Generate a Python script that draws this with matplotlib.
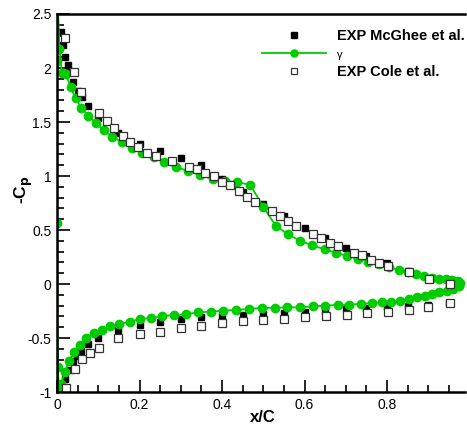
import matplotlib
matplotlib.use("Agg")
import matplotlib.pyplot as plt
from matplotlib.ticker import MultipleLocator

plt.rcParams['font.family'] = ['Liberation Sans', 'DejaVu Sans']

# EXP McGhee et al. (filled squares)
mcghee_up_x = [0.009, 0.014, 0.019, 0.026, 0.029, 0.039, 0.05, 0.06, 0.075, 0.099, 0.149, 0.2, 0.25, 0.3,
               0.35, 0.4, 0.45, 0.5, 0.55, 0.6, 0.65, 0.7, 0.75, 0.8, 0.85, 0.9, 0.95]
mcghee_up_y = [2.33, 2.21, 2.10, 2.03, 1.975, 1.87, 1.79, 1.73, 1.65, 1.54, 1.40, 1.30, 1.23, 1.17,
               1.10, 0.975, 0.855, 0.74, 0.63, 0.52, 0.423, 0.336, 0.262, 0.19, 0.12, 0.056, -0.009]
mcghee_lo_x = [0.004, 0.01, 0.02, 0.029, 0.038, 0.048, 0.059, 0.074, 0.099, 0.149, 0.2, 0.25, 0.3, 0.35,
               0.4, 0.45, 0.5, 0.55, 0.6, 0.65, 0.7, 0.75, 0.8, 0.85, 0.9, 0.95]
mcghee_lo_y = [-0.975, -0.938, -0.877, -0.80, -0.716, -0.667, -0.617, -0.556, -0.50, -0.426, -0.383, -0.352,
               -0.327, -0.308, -0.296, -0.284, -0.275, -0.27, -0.259, -0.25, -0.234, -0.225, -0.216,
               -0.204, -0.194, -0.173]

# EXP Cole et al. (open squares)
cole_up_x = [0.02, 0.04, 0.057, 0.101, 0.12, 0.137, 0.159, 0.177, 0.197, 0.219, 0.239, 0.279, 0.321, 0.339,
             0.359, 0.38, 0.40, 0.419, 0.44, 0.46, 0.481, 0.522, 0.54, 0.561, 0.58, 0.621, 0.64, 0.661,
             0.68, 0.721, 0.74, 0.761, 0.781, 0.803, 0.853, 0.903, 0.953]
cole_up_y = [2.28, 1.966, 1.78, 1.586, 1.506, 1.447, 1.373, 1.318, 1.271, 1.216, 1.188, 1.136, 1.08, 1.068,
             1.028, 0.997, 0.947, 0.914, 0.864, 0.808, 0.757, 0.676, 0.63, 0.585, 0.537, 0.46, 0.423, 0.383,
             0.352, 0.29, 0.269, 0.22, 0.197, 0.164, 0.114, 0.049, -0.003]
cole_lo_x = [0.022, 0.043, 0.06, 0.08, 0.101, 0.149, 0.2, 0.25, 0.3, 0.349, 0.4, 0.452, 0.5, 0.551, 0.6,
             0.651, 0.702, 0.752, 0.803, 0.854, 0.9, 0.953]
cole_lo_y = [-0.96, -0.79, -0.697, -0.642, -0.593, -0.503, -0.46, -0.441, -0.404, -0.389, -0.364, -0.345,
             -0.336, -0.321, -0.308, -0.30, -0.284, -0.266, -0.256, -0.24, -0.21, -0.18]

# gamma model, upper surface TE -> LE, then lower surface LE -> TE
gamma_x = [0.977, 0.971, 0.958, 0.942, 0.926, 0.908, 0.89, 0.87, 0.851, 0.828, 0.805, 0.781, 0.755, 0.73,
           0.704, 0.676, 0.649, 0.619, 0.589, 0.56, 0.53, 0.50, 0.468, 0.437, 0.408, 0.377, 0.347, 0.318,
           0.288, 0.26, 0.234, 0.207, 0.181, 0.157, 0.134, 0.114, 0.095, 0.076, 0.059, 0.045, 0.033, 0.022,
           0.012, 0.006, 0.001, 0.0, 0.0,
           0.002, 0.005, 0.01, 0.019, 0.03, 0.041, 0.056, 0.07, 0.09, 0.109, 0.129, 0.151, 0.178, 0.201,
           0.227, 0.255, 0.283, 0.313, 0.342, 0.373, 0.402, 0.433, 0.465, 0.496, 0.528, 0.558, 0.59, 0.621,
           0.65, 0.68, 0.709, 0.736, 0.764, 0.787, 0.809, 0.832, 0.853, 0.872, 0.891, 0.91, 0.927, 0.945,
           0.961, 0.975]
gamma_y = [0.01, 0.031, 0.037, 0.043, 0.049, 0.058, 0.074, 0.093, 0.111, 0.13, 0.157, 0.182, 0.207, 0.234,
           0.259, 0.29, 0.321, 0.358, 0.401, 0.46, 0.54, 0.716, 0.92, 0.942, 0.954, 0.972, 1.009, 1.049,
           1.08, 1.127, 1.173, 1.213, 1.259, 1.315, 1.364, 1.423, 1.488, 1.558, 1.633, 1.72, 1.82, 1.944,
           1.957, 2.173, 2.7, 2.065, 0.568,
           -0.766, -0.988, -0.929, -0.815, -0.71, -0.63, -0.562, -0.50, -0.456, -0.426, -0.389, -0.37,
           -0.349, -0.324, -0.315, -0.299, -0.287, -0.28, -0.262, -0.256, -0.247, -0.241, -0.231, -0.222,
           -0.22, -0.216, -0.216, -0.207, -0.20, -0.194, -0.191, -0.185, -0.176, -0.17, -0.164, -0.155,
           -0.139, -0.123, -0.111, -0.095, -0.074, -0.062, -0.043, -0.02]

green = '#00cc00'

fig = plt.figure(figsize=(4.67, 4.26), dpi=100)
ax = fig.add_axes([57 / 467, 34 / 426, 0.99 * 412.5 / 467, 378 / 426])

ax.plot(mcghee_up_x + mcghee_lo_x, mcghee_up_y + mcghee_lo_y, 's', color='black', ms=5.0,
        label='EXP McGhee et al.')
ax.plot(gamma_x, gamma_y, '-o', color=green, lw=1.3, ms=6.0, mec=green, label='γ')
ax.plot(cole_up_x + cole_lo_x, cole_up_y + cole_lo_y, 's', mfc='white', mec='#333333', mew=0.9, ms=5.4,
        label='EXP Cole et al.')

ax.set_xlim(0, 0.99)
ax.set_ylim(-1, 2.5)
ax.xaxis.set_major_locator(MultipleLocator(0.2))
ax.xaxis.set_minor_locator(MultipleLocator(0.05))
ax.yaxis.set_major_locator(MultipleLocator(0.5))
ax.yaxis.set_minor_locator(MultipleLocator(0.1))
ax.tick_params(which='both', direction='in', top=False, right=False, labelsize=10, width=1.2)
ax.tick_params(which='major', length=9, pad=4)
ax.tick_params(which='minor', length=5)
ax.xaxis.set_major_formatter(plt.FuncFormatter(lambda v, p: f'{v:g}'))
ax.yaxis.set_major_formatter(plt.FuncFormatter(lambda v, p: f'{v:g}'))
for side in ['left', 'bottom', 'top']:
    ax.spines[side].set_linewidth(1.8)
ax.spines['right'].set_visible(False)

ax.set_xlabel('x/C', fontsize=12, fontweight='bold')
ax.xaxis.set_label_coords(0.504, -0.048)
ax.set_ylabel(r'-C$_\mathbf{p}$', fontsize=12.5, fontweight='bold')
ax.yaxis.set_label_coords(-0.055, 0.534)

leg = ax.legend(loc='upper left', bbox_to_anchor=(262 / 467, 1 - 29 / 426), bbox_transform=fig.transFigure,
                frameon=False, fontsize=10.5, handlelength=4.4, handletextpad=0.75, labelspacing=0.35,
                borderpad=0, borderaxespad=0, markerscale=0.85)
for i, t in enumerate(leg.get_texts()):
    if i == 1:
        t.set_fontsize(8)
    else:
        t.set_fontweight('bold')

fig.savefig('out.png', dpi=100)
